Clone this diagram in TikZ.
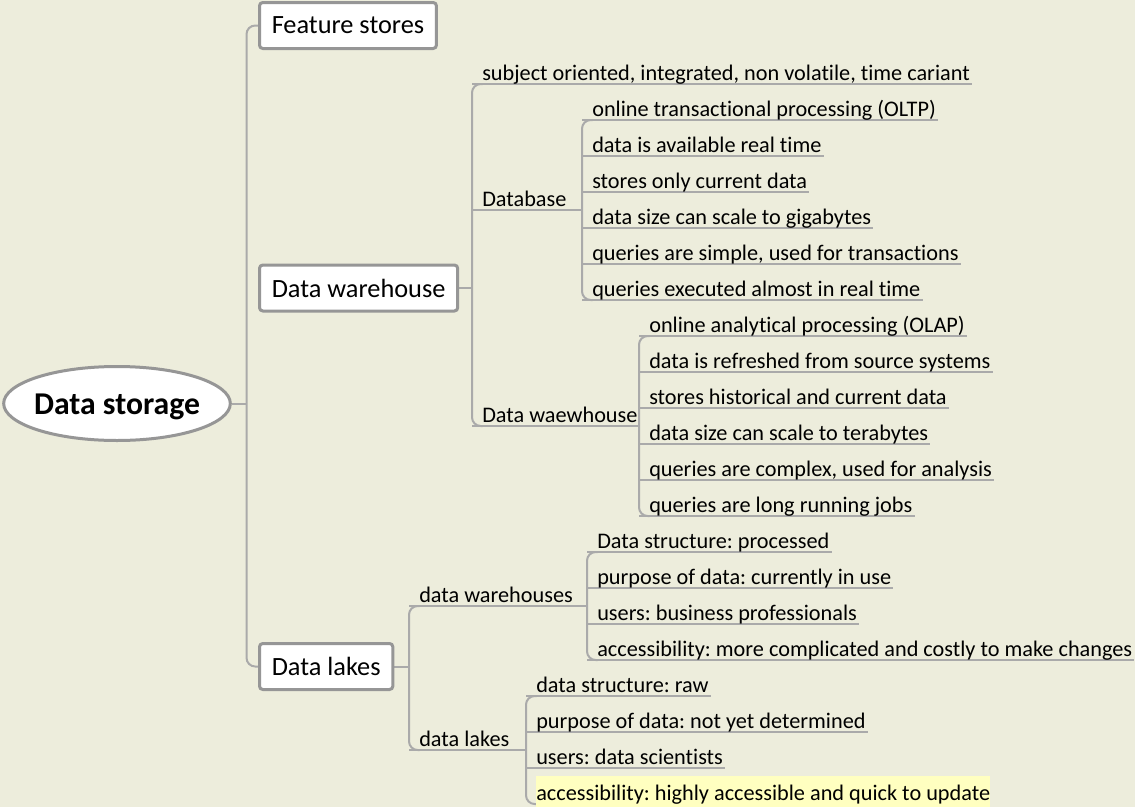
\documentclass[tikz,border=0pt]{standalone}
\usepackage{fontspec}
\setmainfont{Carlito}[Ligatures={NoCommon,NoRequired,NoContextual},Contextuals=NoAlternate]
\usetikzlibrary{shapes.geometric}
\definecolor{pagebg}{RGB}{237,237,220}
\definecolor{lnc}{RGB}{170,170,170}
\definecolor{bdc}{RGB}{150,150,150}
\definecolor{hlc}{RGB}{255,255,192}
\pgfdeclarelayer{bglayer}
\pgfdeclarelayer{connlayer}
\pgfsetlayers{bglayer,connlayer,main}
\newcommand\tIx{t\kern0pt i}
\tikzset{
  conn/.style={draw=lnc, line width=1.5pt},
  bracket/.style={draw=lnc, line width=1.5pt, rounded corners=6.5pt},
  leaf/.style={inner sep=0pt, font=\fontsize{16.7}{19}\selectfont},
  topbox/.style={draw=bdc, line width=2.25pt, fill=white, rounded corners=2.5pt,
    inner xsep=9.2pt, inner ysep=0pt, minimum height=34.5pt,
    font=\fontsize{19.75}{22}\selectfont},
  rootnode/.style={ellipse, draw=bdc, line width=2.25pt, fill=white,
    inner xsep=-3pt, inner ysep=0pt, minimum width=170pt, minimum height=55.5pt,
    text height=16.5pt, text depth=0pt,
    font=\bfseries\fontsize{23.8}{26}\selectfont},
}
% leaf: name, bracket x, underline y, text
\newcommand\leafat[4]{%
  \coordinate (#1-u) at (#2,#3);
  \node[leaf, anchor=base west] (#1) at (#2+10,#3-4) {#4};
  \begin{pgfonlayer}{connlayer}
    \draw[conn] (#1-u) -- ([shift={(2,4)}]#1.base east);
  \end{pgfonlayer}}
% branch: name, bracket x, underline y, text, child bracket x
\newcommand\branchat[5]{%
  \coordinate (#1-u) at (#2,#3);
  \coordinate (#1-c) at (#5,#3);
  \node[leaf, anchor=base west] (#1) at (#2+10,#3-4) {#4};
  \begin{pgfonlayer}{connlayer}
    \draw[conn] (#1-u) -- (#1-c);
  \end{pgfonlayer}}
% bracket between first and last child underline starts
\newcommand\bracketfor[2]{%
  \begin{pgfonlayer}{connlayer}
    \draw[bracket] ([xshift=8pt]#1-u) -- (#1-u) -- (#2-u) -- ([xshift=8pt]#2-u);
  \end{pgfonlayer}}

\begin{document}
\frenchspacing
\begin{tikzpicture}[x=0.75pt,y=-0.75pt]
\begin{pgfonlayer}{bglayer}
  \fill[pagebg] (0,0) rectangle (1135,807);
\end{pgfonlayer}
\useasboundingbox (0,0) rectangle (1135,807);

% root and first level
\node[rootnode] (root) at (117,403.5) {Data storage};
\node[topbox, anchor=west] (fs) at (258,25.5) {Feature stores};
\node[topbox, anchor=west] (dw) at (258,288) {Data warehouse};
\node[topbox, anchor=west] (dl) at (258,666.5) {Data lakes};
\coordinate (mainbar) at (246.5,400);
\coordinate (dwbar) at (472,0);
\coordinate (dlbar) at (409,0);
\begin{pgfonlayer}{connlayer}
  \draw[bracket] (fs.west) -| (mainbar) |- (dl.west);
  \draw[conn] (root.east) -- (root.east -| mainbar);
  \draw[conn] (dw.east) -- (dw.east -| dwbar);
  \draw[conn] (dl.east) -- (dl.east -| dlbar);
\end{pgfonlayer}

% Data warehouse branch
\leafat{subj}{472}{84}{subject oriented, integrated, non vola\tIx le, \tIx me cariant}
\branchat{dbase}{472}{210}{Database}{582}
\leafat{db1}{582}{120}{online transac\tIx onal processing (OLTP)}
\leafat{db2}{582}{156}{data is available real \tIx me}
\leafat{db3}{582}{192}{stores only current data}
\leafat{db4}{582}{228}{data size can scale to gigabytes}
\leafat{db5}{582}{264}{queries are simple, used for transac\tIx ons}
\leafat{db6}{582}{300}{queries executed almost in real \tIx me}
\bracketfor{db1}{db6}
\branchat{dwh}{472}{426}{Data waewhouse}{639}
\leafat{wh1}{639}{336}{online analytical processing (OLAP)}
\leafat{wh2}{639}{372}{data is refreshed from source systems}
\leafat{wh3}{639}{408}{stores historical and current data}
\leafat{wh4}{639}{444}{data size can scale to terabytes}
\leafat{wh5}{639}{480}{queries are complex, used for analysis}
\leafat{wh6}{639}{516}{queries are long running jobs}
\bracketfor{wh1}{wh6}
\bracketfor{subj}{dwh}

% Data lakes branch
\branchat{dwhs}{409}{606}{data warehouses}{587}
\leafat{hs1}{587}{552}{Data structure: processed}
\leafat{hs2}{587}{588}{purpose of data: currently in use}
\leafat{hs3}{587}{624}{users: business professionals}
\leafat{hs4}{587}{660}{accessibility: more complicated and costly to make changes}
\bracketfor{hs1}{hs4}
\branchat{dlks}{409}{750}{data lakes}{526}
\leafat{lk1}{526}{696}{data structure: raw}
\leafat{lk2}{526}{732}{purpose of data: not yet determined}
\leafat{lk3}{526}{768}{users: data scien\tIx sts}
\coordinate (lk4-u) at (526,804);
\node[leaf, anchor=base west, fill=hlc, text height=18pt, text depth=5.5pt] (lk4) at (536,800)
  {accessibility: highly accessible and quick to update};
\bracketfor{lk1}{lk4}
\bracketfor{dwhs}{dlks}
\end{tikzpicture}
\end{document}
